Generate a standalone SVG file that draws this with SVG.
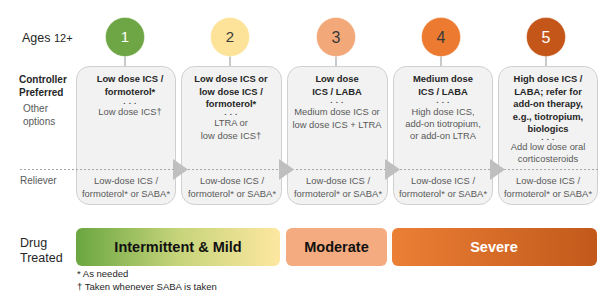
<svg xmlns="http://www.w3.org/2000/svg" width="611" height="297" viewBox="0 0 611 297">
<style>
text{font-family:"Liberation Sans",Arial,sans-serif;}
.lblb{font-size:10px;font-weight:bold;fill:#262626;}
.lblr{font-size:10px;fill:#595959;}
.b{font-size:9.4px;font-weight:bold;fill:#262626;text-anchor:middle;}
.r{font-size:9.4px;fill:#595959;text-anchor:middle;}
.d{font-size:8px;font-weight:bold;fill:#404040;text-anchor:middle;letter-spacing:0.5px;}
.box{fill:#f2f2f2;stroke:#cfcfcf;stroke-width:1;}
.tick{stroke:#a6a6a6;stroke-width:1.2;}
.num{font-size:15px;text-anchor:middle;}
.circ{stroke:#ffffff;stroke-opacity:0.35;stroke-width:1;}
.arrow{fill:#bfbfbf;}
.bar{font-size:14.5px;font-weight:bold;text-anchor:middle;}
.foot{font-size:9.5px;fill:#262626;}
</style>
<defs>
<linearGradient id="gMild" x1="0" y1="0" x2="1" y2="0">
<stop offset="0" stop-color="#6aa641"/>
<stop offset="0.5" stop-color="#c6d47a"/>
<stop offset="1" stop-color="#fde7a0"/>
</linearGradient>
<linearGradient id="gSev" x1="0" y1="0" x2="1" y2="0">
<stop offset="0" stop-color="#eb7f35"/>
<stop offset="1" stop-color="#c2591b"/>
</linearGradient>
</defs>

<g id="row-labels">
<text x="22" y="42" style="font-size:12.5px;fill:#262626">Ages <tspan style="font-size:11px">12+</tspan></text>
<text class="lblb" x="19" y="83">Controller</text>
<text class="lblb" x="19" y="96">Preferred</text>
<text class="lblr" x="23" y="112">Other</text>
<text class="lblr" x="23" y="125">options</text>
<text class="lblr" x="20" y="184">Reliever</text>
<text x="20" y="247" style="font-size:12.5px;fill:#262626">Drug</text>
<text x="20" y="262" style="font-size:12.5px;fill:#262626">Treated</text>
</g>

<g id="step1">
<line class="tick" x1="125" y1="56" x2="125" y2="66"/>
<rect class="box" x="76.5" y="66.5" width="99" height="138" rx="13"/>
<circle class="circ" cx="125" cy="37" r="19.5" fill="#6ea646"/>
<text class="num" x="125" y="42" fill="#ffffff">1</text>
<text class="b" x="130" y="82">Low dose ICS /</text>
<text class="b" x="130" y="95">formoterol*</text>
<text class="d" x="130" y="104">. . .</text>
<text class="r" x="130" y="115">Low dose ICS†</text>
<text class="r" x="126" y="184">Low-dose ICS /</text>
<text class="r" x="126" y="197">formoterol* or SABA*</text>
</g>

<g id="step2">
<line class="tick" x1="230" y1="56" x2="230" y2="66"/>
<rect class="box" x="181.5" y="66.5" width="100" height="138" rx="13"/>
<circle class="circ" cx="230" cy="37" r="19.5" fill="#fde39a"/>
<text class="num" x="230" y="42" fill="#3a3a3a">2</text>
<text class="b" x="231" y="82">Low dose ICS or</text>
<text class="b" x="231" y="95">low dose ICS /</text>
<text class="b" x="231" y="107">formoterol*</text>
<text class="d" x="231" y="115">. . .</text>
<text class="r" x="231" y="126">LTRA or</text>
<text class="r" x="231" y="139">low dose ICS†</text>
<text class="r" x="232" y="184">Low-dose ICS /</text>
<text class="r" x="232" y="197">formoterol* or SABA*</text>
</g>

<g id="step3">
<line class="tick" x1="336" y1="56" x2="336" y2="66"/>
<rect class="box" x="287.5" y="66.5" width="100" height="138" rx="13"/>
<circle class="circ" cx="336" cy="37" r="19.5" fill="#f3a87a"/>
<text class="num" x="336" y="43" fill="#3a3a3a" style="font-size:16px">3</text>
<text class="b" x="337" y="82">Low dose</text>
<text class="b" x="337" y="95">ICS / LABA</text>
<text class="d" x="337" y="103">. . .</text>
<text class="r" x="337" y="115">Medium dose ICS or</text>
<text class="r" x="337" y="128">low dose ICS + LTRA</text>
<text class="r" x="338" y="184">Low-dose ICS /</text>
<text class="r" x="338" y="197">formoterol* or SABA*</text>
</g>

<g id="step4">
<line class="tick" x1="441" y1="56" x2="441" y2="66"/>
<rect class="box" x="393.5" y="66.5" width="99" height="138" rx="13"/>
<circle class="circ" cx="441" cy="37" r="19.5" fill="#ec7b31"/>
<text class="num" x="441" y="43" fill="#3a3a3a" style="font-size:16px">4</text>
<text class="b" x="443" y="82">Medium dose</text>
<text class="b" x="443" y="95">ICS / LABA</text>
<text class="d" x="443" y="103">. . .</text>
<text class="r" x="443" y="115">High dose ICS,</text>
<text class="r" x="443" y="127">add-on tiotropium,</text>
<text class="r" x="443" y="139">or add-on LTRA</text>
<text class="r" x="443" y="184">Low-dose ICS /</text>
<text class="r" x="443" y="197">formoterol* or SABA*</text>
</g>

<g id="step5">
<line class="tick" x1="546" y1="56" x2="546" y2="66"/>
<rect class="box" x="498.5" y="66.5" width="99" height="138" rx="13"/>
<circle class="circ" cx="546" cy="37" r="19.5" fill="#c4561a"/>
<text class="num" x="546" y="43" fill="#ffffff" style="font-size:16px">5</text>
<text class="b" x="548" y="82">High dose ICS /</text>
<text class="b" x="548" y="94.5">LABA; refer for</text>
<text class="b" x="548" y="107">add-on therapy,</text>
<text class="b" x="548" y="119.5">e.g., tiotropium,</text>
<text class="b" x="548" y="132">biologics</text>
<text class="d" x="548" y="140">. . .</text>
<text class="r" x="548" y="150">Add low dose oral</text>
<text class="r" x="548" y="162">corticosteroids</text>
<text class="r" x="548" y="184">Low-dose ICS /</text>
<text class="r" x="548" y="197">formoterol* or SABA*</text>
</g>

<g id="connectors">
<line x1="20" y1="169.5" x2="600" y2="169.5" stroke="#a6a6a6" stroke-width="1" stroke-dasharray="2,2"/>
<polygon class="arrow" points="173,159 188,169.5 173,180"/>
<polygon class="arrow" points="279,159 294,169.5 279,180"/>
<polygon class="arrow" points="385,159 400,169.5 385,180"/>
<polygon class="arrow" points="490,159 505,169.5 490,180"/>
</g>

<g id="bar-mild">
<rect x="76" y="228" width="204" height="38" rx="6" fill="url(#gMild)"/>
<text class="bar" x="178" y="252" fill="#111111">Intermittent &amp; Mild</text>
</g>
<g id="bar-moderate">
<rect x="286" y="228" width="101" height="38" rx="6" fill="#f3ab7f"/>
<text class="bar" x="336.5" y="252" fill="#111111">Moderate</text>
</g>
<g id="bar-severe">
<rect x="392" y="228" width="205" height="38" rx="6" fill="url(#gSev)"/>
<text class="bar" x="494" y="252" fill="#ffffff">Severe</text>
</g>

<g id="footnotes">
<text class="foot" x="77" y="277">* As needed</text>
<text class="foot" x="77" y="290">† Taken whenever SABA is taken</text>
</g>
</svg>
